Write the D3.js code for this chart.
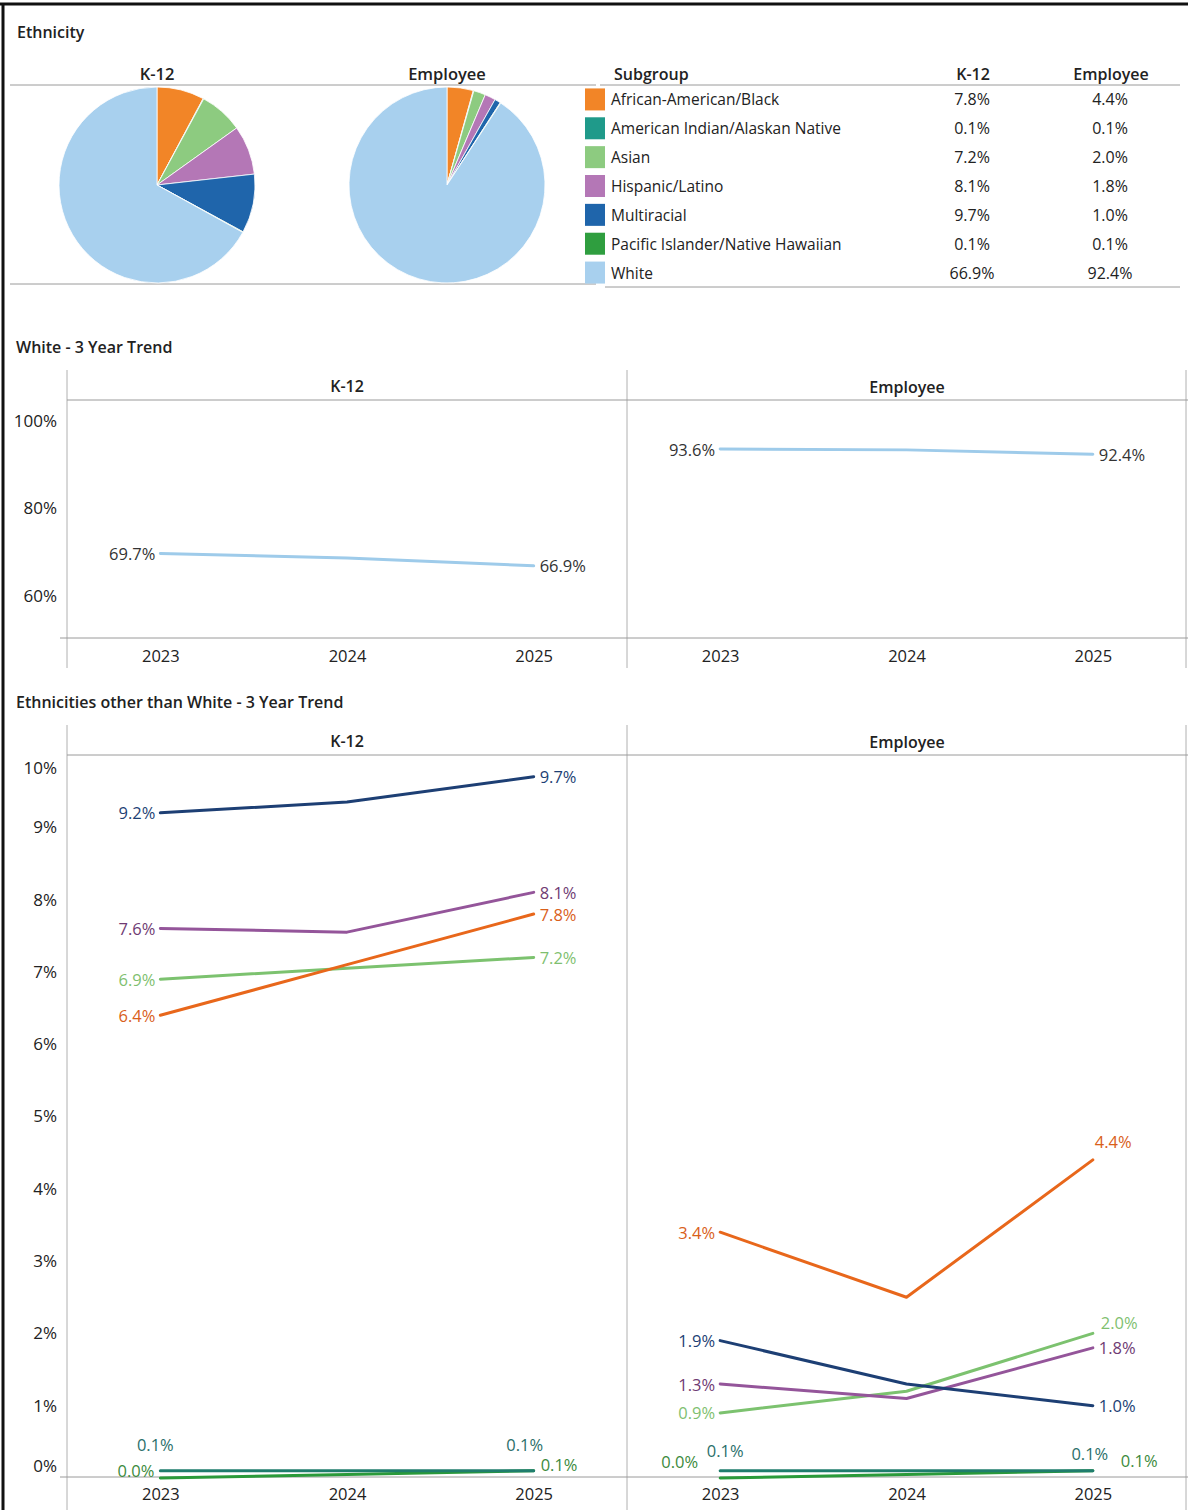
<!DOCTYPE html>
<html>
<head>
<meta charset="utf-8">
<script src="https://cdn.jsdelivr.net/npm/d3@7"></script>
<style>
  body { margin: 0; background: #fff; }
  svg { display: block; font-family: "Open Sans", "Noto Sans", sans-serif; }
</style>
</head>
<body>
<svg width="1188" height="1510"></svg>
<script>
// subgroups and their pie / table values (latest year)
const subgroups = ['African-American/Black', 'American Indian/Alaskan Native', 'Asian', 'Hispanic/Latino',
  'Multiracial', 'Pacific Islander/Native Hawaiian', 'White'];
const pieK12 = [7.8, 0.1, 7.2, 8.1, 9.7, 0.1, 66.9];
const pieEmployee = [4.4, 0.1, 2.0, 1.8, 1.0, 0.1, 92.4];
const years = ['2023', '2024', '2025'];

// white 3 year trend
const whiteK12 = [69.7, 68.7, 66.9];
const whiteEmployee = [93.6, 93.4, 92.4];
const whiteTicks = [60, 80, 100];

// other ethnicities 3 year trend (same order as subgroups, white left out)
const k12Black = [6.4, 7.1, 7.8];
const k12Indian = [0.1, 0.1, 0.1];
const k12Asian = [6.9, 7.05, 7.2];
const k12Hispanic = [7.6, 7.55, 8.1];
const k12Multi = [9.2, 9.35, 9.7];
const k12Pacific = [0.0, 0.05, 0.1];
const empBlack = [3.4, 2.5, 4.4];
const empIndian = [0.1, 0.1, 0.1];
const empAsian = [0.9, 1.2, 2.0];
const empHispanic = [1.3, 1.1, 1.8];
const empMulti = [1.9, 1.3, 1.0];
const empPacific = [0.0, 0.05, 0.1];
const otherTicks = [0, 1, 2, 3, 4, 5, 6, 7, 8, 9, 10];

const pieColors = ['#f28527', '#1f9a8a', '#8dcb80', '#b477b6', '#1f65ab', '#2f9e3f', '#a8d0ee'];
const lineColors = ['#e8671b', '#1f7d6d', '#7cc26f', '#94559a', '#1d3f74', '#2a9a3a', '#9ecbea'];
const labelColors = ['#d9601a', '#2b6f6a', '#7fbf70', '#6f3b73', '#1d3f74', '#3c8a3c', '#333'];

const FONT = '"Open Sans", "Noto Sans", sans-serif';
const svg = d3.select('svg');
const fmt = v => v.toFixed(1) + '%';

function hline(x1, x2, y, color) {
  svg.append('line').attr('x1', x1).attr('x2', x2).attr('y1', y).attr('y2', y)
    .attr('stroke', color || '#9a9a9a').attr('stroke-width', 1);
}
function vline(x, y1, y2) {
  svg.append('line').attr('x1', x).attr('x2', x).attr('y1', y1).attr('y2', y2)
    .attr('stroke', '#b0b0b0').attr('stroke-width', 1);
}
function text(x, y, str, opts) {
  opts = opts || {};
  return svg.append('text').attr('x', x).attr('y', y).text(str)
    .attr('text-anchor', opts.anchor || 'start')
    .attr('dominant-baseline', 'central')
    .attr('font-size', opts.size || 16)
    .attr('font-weight', opts.weight || 400)
    .attr('fill', opts.color || '#222');
}

// page frame
svg.append('line').attr('x1', 0).attr('x2', 1188).attr('y1', 4).attr('y2', 4).attr('stroke', '#111').attr('stroke-width', 3);
svg.append('line').attr('x1', 3).attr('x2', 3).attr('y1', 3).attr('y2', 1510).attr('stroke', '#111').attr('stroke-width', 3);

// ---------- Ethnicity pies + table ----------
text(17, 32, 'Ethnicity', { size: 16, weight: 600 });
hline(10, 596, 85);
hline(10, 596, 284);

const pie = d3.pie().sort(null).value(d => d);
const arc = d3.arc().innerRadius(0).outerRadius(98);
[[pieK12, 157, 'K-12'], [pieEmployee, 447, 'Employee']].forEach(([vals, cx, name]) => {
  text(cx, 73, name, { anchor: 'middle', size: 16.5, weight: 600 });
  svg.append('g').attr('transform', 'translate(' + cx + ',185)')
    .selectAll('path')
    .data(pie(vals))
    .enter()
    .append('path')
    .attr('d', arc)
    .attr('fill', (d, i) => pieColors[i])
    .attr('stroke', '#fff')
    .attr('stroke-width', 0.8);
});

// table with legend swatches
const rowY = d3.scaleBand().domain(subgroups).range([85, 287]);
text(614, 74, 'Subgroup', { size: 16, weight: 600 });
text(973, 74, 'K-12', { anchor: 'middle', size: 16, weight: 600 });
text(1111, 74, 'Employee', { anchor: 'middle', size: 16, weight: 600 });
hline(600, 1180, 85);
hline(605, 1180, 287);
subgroups.forEach((s, i) => {
  const y = rowY(s) + rowY.bandwidth() / 2;
  svg.append('rect').attr('x', 585).attr('y', y - 11).attr('width', 20).attr('height', 22)
    .attr('fill', pieColors[i]);
  text(611, y, s, { size: 15.5 });
  text(972, y, fmt(pieK12[i]), { anchor: 'middle', size: 16 });
  text(1110, y, fmt(pieEmployee[i]), { anchor: 'middle', size: 16 });
});

// ---------- shared panel frame for the trend charts ----------
function panelFrame(top, headY, axisY, bottom, titleY, title) {
  text(16, titleY, title, { size: 16, weight: 600 });
  vline(67, top, bottom);
  vline(627, top, bottom);
  vline(1186, top, bottom);
  hline(67, 1188, headY);
  hline(60, 1188, axisY);
  text(347, (top + headY) / 2 + 1, 'K-12', { anchor: 'middle', size: 16, weight: 600 });
  text(907, (top + headY) / 2 + 2, 'Employee', { anchor: 'middle', size: 16, weight: 600 });
}

const xK12 = d3.scalePoint().domain(years).range([67, 627]).padding(0.5);
const xEmp = d3.scalePoint().domain(years).range([627, 1186]).padding(0.5);

function yearAxis(y) {
  [xK12, xEmp].forEach(xs => {
    svg.append('g').attr('transform', 'translate(0,' + y + ')')
      .call(d3.axisBottom(xs).tickSize(0).tickPadding(0))
      .call(g => g.select('.domain').remove())
      .selectAll('text')
      .attr('font-size', 16.5).attr('fill', '#222')
      .attr('font-family', FONT)
      .attr('dy', '0.35em').attr('dominant-baseline', 'auto');
  });
}

function yTicks(ys, ticks) {
  return svg.append('g').attr('transform', 'translate(57,0)')
    .call(d3.axisLeft(ys).tickValues(ticks).tickFormat(d => d + '%').tickSize(0).tickPadding(0))
    .call(g => g.select('.domain').remove())
    .selectAll('text').attr('font-size', 17).attr('fill', '#222')
    .attr('font-family', FONT);
}

// draw a line with start / end labels; place = [[anchor, dx, dy], [anchor, dx, dy]]
function trendLine(xs, ys, vals, color, labColor, place) {
  const line = d3.line().x((d, i) => xs(years[i])).y(d => ys(d));
  svg.append('path').datum(vals).attr('d', line)
    .attr('fill', 'none').attr('stroke', color).attr('stroke-width', 3)
    .attr('stroke-linejoin', 'round').attr('stroke-linecap', 'round');
  [0, 2].forEach((idx, k) => {
    const p = place[k];
    text(xs(years[idx]) + p[1], ys(vals[idx]) + p[2], fmt(vals[idx]),
      { anchor: p[0], size: 16.5, color: labColor });
  });
}
const LEFT = ['end', -5, 0];
const RIGHT = ['start', 6, 0];

// ---------- White - 3 Year Trend ----------
panelFrame(370, 400, 638, 668, 347, 'White - 3 Year Trend');
const yWhite = d3.scaleLinear().domain([50.4, 104.8]).range([638, 400]);
yTicks(yWhite, whiteTicks);
yearAxis(656);
trendLine(xK12, yWhite, whiteK12, lineColors[6], labelColors[6], [LEFT, RIGHT]);
trendLine(xEmp, yWhite, whiteEmployee, lineColors[6], labelColors[6], [LEFT, RIGHT]);

// ---------- Ethnicities other than White - 3 Year Trend ----------
panelFrame(725, 755, 1477, 1510, 702, 'Ethnicities other than White - 3 Year Trend');
const yOther = d3.scaleLinear().domain([0, 10]).range([1478, 755]);
yTicks(yOther, otherTicks)
  .attr('transform', d => d === 10 ? 'translate(0,13)' : d === 0 ? 'translate(0,-12)' : null); // keep end labels inside
yearAxis(1494);

const k12Series = [k12Pacific, k12Indian, k12Asian, k12Black, k12Hispanic, k12Multi];
const empSeries = [empPacific, empIndian, empAsian, empHispanic, empMulti, empBlack];
const seriesIdx = [5, 1, 2, 0, 3, 4];
const empIdx = [5, 1, 2, 3, 4, 0];
const k12Place = {
  5: [['end', -6, -8], ['start', 7, -6]],
  1: [['middle', -5, -26], ['middle', -9, -26]]
};
const empPlace = {
  5: [['end', -22, -17], ['start', 28, -10]],
  1: [['middle', 5, -20], ['middle', -3, -17]],
  0: [LEFT, ['start', 2, -18]],
  2: [LEFT, ['start', 8, -11]]
};
k12Series.forEach((vals, j) => {
  const i = seriesIdx[j];
  trendLine(xK12, yOther, vals, lineColors[i], labelColors[i], k12Place[i] || [LEFT, RIGHT]);
});
empSeries.forEach((vals, j) => {
  const i = empIdx[j];
  trendLine(xEmp, yOther, vals, lineColors[i], labelColors[i], empPlace[i] || [LEFT, RIGHT]);
});
</script>
</body>
</html>
